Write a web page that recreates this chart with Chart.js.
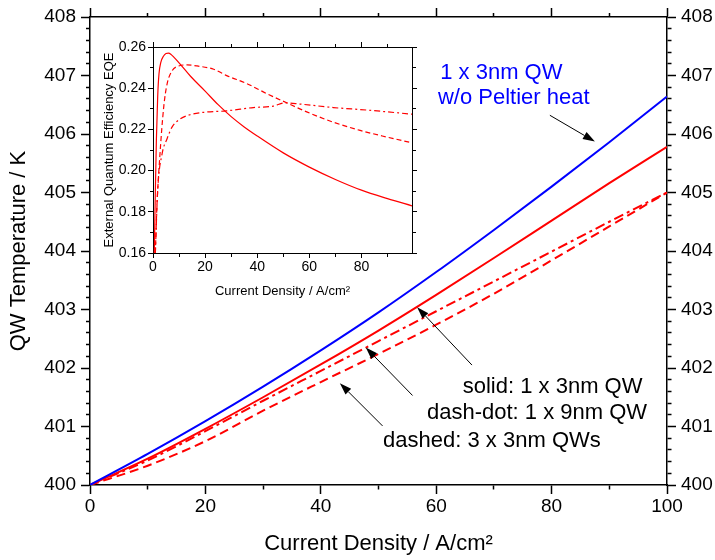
<!DOCTYPE html>
<html>
<head>
<meta charset="utf-8">
<script src="https://cdn.jsdelivr.net/npm/chart.js@4.4.1/dist/chart.umd.min.js"></script>
<style>
  html, body { margin: 0; padding: 0; background: #fff; }
  #wrap { position: relative; width: 715px; height: 560px; }
  #main { position: absolute; left: 0; top: 0; }
  #inset { position: absolute; left: 96px; top: 22px; }
</style>
</head>
<body>
<div id="wrap">
  <canvas id="main" width="715" height="560"></canvas>
  <canvas id="inset" width="330" height="285"></canvas>
</div>
<script>
// ---- main plot data: QW temperature vs current density ----
const currentDensity = [0, 10, 20, 30, 40, 50, 60, 70, 80, 90, 100];
const tempNoPeltier  = [400, 400.53, 401.09, 401.68, 402.30, 402.95, 403.64, 404.36, 405.10, 405.86, 406.64];
const tempSolid      = [400, 400.45, 400.96, 401.50, 402.06, 402.64, 403.25, 403.88, 404.52, 405.16, 405.78];
const tempDashDot    = [400, 400.42, 400.92, 401.44, 401.95, 402.46, 402.97, 403.48, 403.99, 404.50, 405.00];
const tempDashed     = [400, 400.33, 400.75, 401.27, 401.76, 402.24, 402.74, 403.27, 403.84, 404.42, 405.00];

// ---- inset data: EQE vs current density ----
const eqeSolidJ   = [0.5, 0.9, 1.3, 1.8, 2.3, 3.0, 4.0, 5.0, 5.9, 7.0, 7.9, 10.5, 14.4, 20, 25, 30, 35, 40, 50, 60, 70, 80, 90, 99.4];
const eqeSolid    = [0.16, 0.19, 0.215, 0.236, 0.247, 0.2525, 0.2555, 0.2568, 0.257, 0.2563, 0.2552, 0.2516, 0.2458, 0.2386, 0.232, 0.2262, 0.2212, 0.2168, 0.2086, 0.2017, 0.1957, 0.1905, 0.1864, 0.1829];
const eqeDashedJ  = [0.9, 1.5, 2.6, 4.1, 5.4, 7.3, 9.9, 13.1, 16.9, 23.3, 28.5, 35.9, 43.6, 51.3, 59, 69.2, 79.5, 89.7, 99.4];
const eqeDashed   = [0.16, 0.1825, 0.2066, 0.2307, 0.242, 0.2484, 0.2508, 0.2513, 0.2508, 0.2492, 0.246, 0.2423, 0.2374, 0.2329, 0.2285, 0.2235, 0.2195, 0.2163, 0.2135];
const eqeDashDotJ = [0.9, 1.8, 3.5, 5.4, 7.3, 10.5, 14.4, 19.5, 28.2, 38.5, 46.2, 50.6, 56.4, 69.2, 82, 99.4];
const eqeDashDot  = [0.16, 0.1905, 0.2082, 0.2155, 0.2211, 0.2251, 0.2272, 0.2283, 0.229, 0.2306, 0.2313, 0.2329, 0.2323, 0.2306, 0.2294, 0.2274];

// annotations (data coordinates of the main plot)
const notes = [
  { text: '1 x 3nm QW', x: 60.7, y: 406.94, color: '#0000ff' },
  { text: 'w/o Peltier heat', x: 60.3, y: 406.51, color: '#0000ff' },
  { text: 'solid: 1 x 3nm QW', x: 64.6, y: 401.57, color: '#000' },
  { text: 'dash-dot: 1 x 9nm QW', x: 58.4, y: 401.13, color: '#000' },
  { text: 'dashed: 3 x 3nm QWs', x: 50.8, y: 400.65, color: '#000' }
];
const arrows = [
  { from: [79.7, 406.32], to: [87.5, 405.87] },
  { from: [66.2, 402.05], to: [56.7, 403.04] },
  { from: [55.9, 401.53], to: [47.8, 402.35] },
  { from: [50.7, 401.01], to: [43.3, 401.74] }
];

const FONT = '"Liberation Sans", Arial, sans-serif';
const RED = '#ff0000';
const BLUE = '#0000ff';

function pts(xs, ys) {
  return xs.map((x, i) => ({ x: x, y: ys[i] }));
}

function onStep(v, step) {
  const r = v / step;
  return Math.abs(r - Math.round(r)) < 1e-6;
}

// text labels and arrows on the main plot
const notesPlugin = {
  id: 'notes',
  afterDraw(chart) {
    const ctx = chart.ctx;
    const sx = chart.scales.x, sy = chart.scales.y;
    ctx.save();
    ctx.font = '22px ' + FONT;
    ctx.textBaseline = 'alphabetic';
    ctx.textAlign = 'left';
    notes.forEach(n => {
      ctx.fillStyle = n.color;
      ctx.fillText(n.text, sx.getPixelForValue(n.x), sy.getPixelForValue(n.y));
    });
    ctx.strokeStyle = '#000';
    ctx.fillStyle = '#000';
    ctx.lineWidth = 1;
    arrows.forEach(a => {
      const x0 = sx.getPixelForValue(a.from[0]), y0 = sy.getPixelForValue(a.from[1]);
      const x1 = sx.getPixelForValue(a.to[0]), y1 = sy.getPixelForValue(a.to[1]);
      const ang = Math.atan2(y1 - y0, x1 - x0);
      const c = Math.cos(ang), sn = Math.sin(ang);
      const hl = 12, hw = 4;
      ctx.beginPath();
      ctx.moveTo(x0, y0);
      ctx.lineTo(x1 - hl * c, y1 - hl * sn);
      ctx.stroke();
      ctx.beginPath();
      ctx.moveTo(x1, y1);
      ctx.lineTo(x1 - hl * c + hw * sn, y1 - hl * sn - hw * c);
      ctx.lineTo(x1 - hl * c - hw * sn, y1 - hl * sn + hw * c);
      ctx.closePath();
      ctx.fill();
    });
    ctx.restore();
  }
};

// one side of a boxed frame: outward tick marks, long on major steps and
// dash-trimmed short ones on minor steps; label text only on major steps
function axis(position, min, max, size, t) {
  const horizontal = position === 'top' || position === 'bottom';
  // Chart.js strokes left/top ticks from the outer end towards the border
  const outerFirst = position === 'left' || position === 'top';
  const minorDash = outerFirst ? [0, t.len - t.minorLen, t.minorLen, t.len] : [t.minorLen, t.len];
  const cfg = {
    type: 'linear',
    position: position,
    min: min,
    max: max,
    border: { color: '#000', width: t.width },
    grid: {
      display: true,
      drawOnChartArea: false,
      drawTicks: true,
      tickLength: t.len,
      tickWidth: t.width,
      tickColor: '#000',
      tickBorderDash: c => (c.tick && !onStep(c.tick.value, t.major)) ? minorDash : []
    },
    ticks: {
      display: !!t.labels,
      stepSize: t.minor,
      autoSkip: false,
      includeBounds: false,
      maxRotation: 0,
      padding: t.padding || 0,
      color: '#000',
      font: t.font,
      callback: v => onStep(v, t.major) ? (t.fmt ? t.fmt(v) : String(v)) : ''
    },
    afterFit: s => { if (horizontal) s.height = size; else s.width = size; }
  };
  if (t.title) cfg.title = t.title;
  return cfg;
}

const mainTickFont = { family: FONT, size: 19 };
const mainX = { width: 1.5, len: 9, minorLen: 4, major: 20, minor: 10 };
const mainY = { width: 1.5, len: 9, minorLen: 4, major: 1, minor: 0.2 };

new Chart(document.getElementById('main'), {
  type: 'line',
  data: {
    datasets: [
      { data: pts(currentDensity, tempNoPeltier), borderColor: BLUE, borderWidth: 2 },
      { data: pts(currentDensity, tempSolid), borderColor: RED, borderWidth: 2 },
      { data: pts(currentDensity, tempDashDot), borderColor: RED, borderWidth: 2, borderDash: [10, 4, 3, 4] },
      { data: pts(currentDensity, tempDashed), borderColor: RED, borderWidth: 2, borderDash: [9, 5] }
    ]
  },
  options: {
    responsive: false,
    animation: false,
    devicePixelRatio: 1,
    layout: { padding: 0 },
    elements: { point: { radius: 0 }, line: { cubicInterpolationMode: 'monotone', fill: false } },
    plugins: { legend: { display: false }, tooltip: { enabled: false } },
    scales: {
      x: axis('bottom', 0, 100, 75, Object.assign({}, mainX, {
        labels: true, padding: 1, font: mainTickFont,
        title: { display: true, text: 'Current Density / A/cm²', color: '#000', font: { family: FONT, size: 22 }, padding: { top: 0, bottom: 3 } }
      })),
      xTop: axis('top', 0, 100, 17, mainX),
      y: axis('left', 400, 408, 90, Object.assign({}, mainY, {
        labels: true, padding: 5, font: mainTickFont,
        title: { display: true, text: 'QW Temperature / K', color: '#000', font: { family: FONT, size: 22 }, padding: { top: 6, bottom: 0 } }
      })),
      yRight: axis('right', 400, 408, 48, Object.assign({}, mainY, {
        labels: true, padding: 5, font: mainTickFont
      }))
    }
  },
  plugins: [notesPlugin]
});

const insetTickFont = { family: FONT, size: 14 };
const insetX = { width: 1, len: 5, minorLen: 3, major: 20, minor: 10 };
const insetY = { width: 1, len: 5, minorLen: 3, major: 0.02, minor: 0.01 };

new Chart(document.getElementById('inset'), {
  type: 'line',
  data: {
    datasets: [
      { data: pts(eqeSolidJ, eqeSolid), borderColor: RED, borderWidth: 1.2 },
      { data: pts(eqeDashedJ, eqeDashed), borderColor: RED, borderWidth: 1.2, borderDash: [5, 3] },
      { data: pts(eqeDashDotJ, eqeDashDot), borderColor: RED, borderWidth: 1.2, borderDash: [6, 3, 2, 3] }
    ]
  },
  options: {
    responsive: false,
    animation: false,
    devicePixelRatio: 1,
    layout: { padding: 0 },
    elements: { point: { radius: 0 }, line: { cubicInterpolationMode: 'monotone', fill: false } },
    plugins: { legend: { display: false }, tooltip: { enabled: false } },
    scales: {
      x: axis('bottom', 0, 99.4, 54, Object.assign({}, insetX, {
        labels: true, padding: 1, font: insetTickFont,
        title: { display: true, text: 'Current Density / A/cm²', color: '#000', font: { family: FONT, size: 13 }, padding: { top: 0, bottom: 8 } }
      })),
      xTop: axis('top', 0, 99.4, 25, insetX),
      y: axis('left', 0.16, 0.26, 57, Object.assign({}, insetY, {
        labels: true, padding: 2, font: insetTickFont, fmt: v => v.toFixed(2),
        title: { display: true, text: 'External Quantum Efficiency EQE', color: '#000', font: { family: FONT, size: 13 }, padding: { top: 6, bottom: 0 } }
      })),
      yRight: axis('right', 0.16, 0.26, 14, insetY)
    }
  }
});
</script>
</body>
</html>
